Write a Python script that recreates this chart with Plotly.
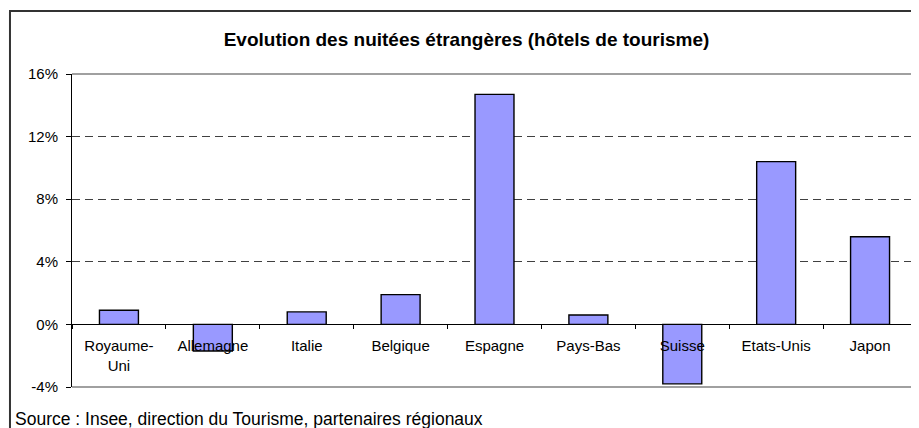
import plotly.graph_objects as go

# Données
pays = ['Royaume-<br>Uni', 'Allemagne', 'Italie', 'Belgique', 'Espagne',
        'Pays-Bas', 'Suisse', 'Etats-Unis', 'Japon']
evolution = [0.9, -1.7, 0.8, 1.9, 14.7, 0.6, -3.8, 10.4, 5.6]
y_ticks = [-4, 0, 4, 8, 12, 16]
y_labels = ['-4%', '0%', '4%', '8%', '12%', '16%']

police = 'Liberation Sans, Arial, sans-serif'

fig = go.Figure()

fig.add_trace(go.Bar(
    x=pays,
    y=evolution,
    marker_color='#9999FF',
    marker_line_color='black',
    marker_line_width=1.4,
    hoverinfo='skip'
))

# Cadre de la zone de tracé (haut, droite, bas)
for x0, y0, x1, y1 in [(0, 1, 1, 1), (1, 0, 1, 1), (0, 0, 1, 0)]:
    fig.add_shape(type='line', xref='paper', yref='paper',
                  x0=x0, y0=y0, x1=x1, y1=y1,
                  line=dict(color='#808080', width=1.3), layer='above')

# Cadre extérieur du graphique
fig.add_shape(type='rect', xref='paper', yref='paper',
              x0=-0.0734, y0=-0.4, x1=1.06, y1=1.2013,
              line=dict(color='#333333', width=2), layer='below')

fig.add_annotation(
    text='Source : Insee, direction du Tourisme, partenaires régionaux',
    xref='paper', yref='paper', x=-0.0698, y=-0.103,
    xanchor='left', yanchor='middle', showarrow=False,
    font=dict(family=police, size=17.5, color='black')
)

# La page ajoute une marge de 8 px : la figure fait donc 911x420
fig.update_layout(
    width=911, height=420,
    margin=dict(l=64, r=2, t=66, b=41),
    paper_bgcolor='white',
    plot_bgcolor='white',
    showlegend=False,
    bargap=0.585,
    font=dict(family=police, size=15, color='black'),
    title=dict(
        text='<b>Evolution des nuitées étrangères (hôtels de tourisme)</b>',
        x=0.4669, xref='paper', xanchor='center',
        y=1 - 31 / 420, yref='container', yanchor='middle',
        font=dict(family=police, size=19, color='black')
    ),
    xaxis=dict(
        type='category',
        anchor='free', position=0.2,
        tickson='boundaries',
        ticks='outside', ticklen=4, tickcolor='black',
        showline=True, linecolor='black', linewidth=1,
        showgrid=False,
        ticklabelstandoff=8,
        tickfont=dict(size=15)
    ),
    yaxis=dict(
        range=[-4, 16],
        tickvals=y_ticks, ticktext=y_labels,
        ticks='outside', ticklen=5, tickcolor='black',
        ticklabelstandoff=5,
        showline=True, linecolor='black', linewidth=1,
        showgrid=True, gridcolor='#404040', gridwidth=1,
        griddash='8px,5px',
        zeroline=False,
        tickfont=dict(size=15)
    )
)

fig.write_html('out.html')
